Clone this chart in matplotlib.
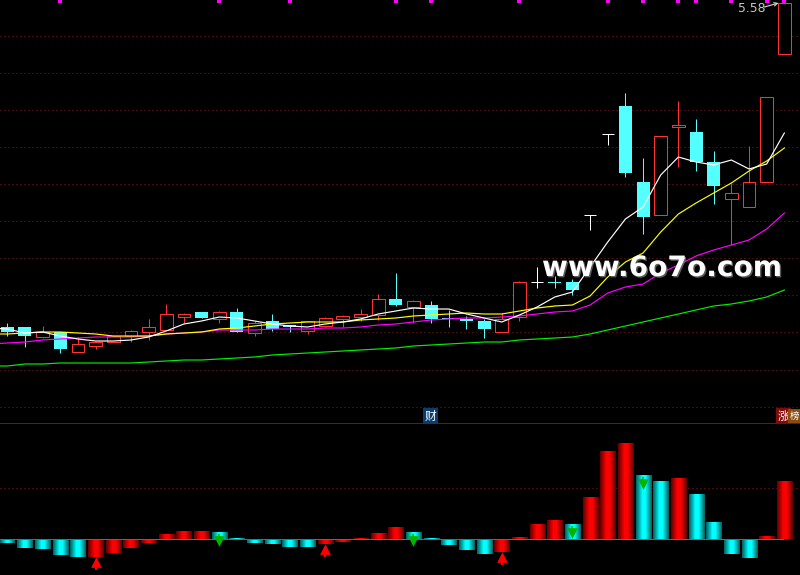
import matplotlib
matplotlib.use('Agg')
import matplotlib.pyplot as plt
import matplotlib.patheffects as pe
from matplotlib.colors import LinearSegmentedColormap
import numpy as np

plt.rcParams['font.family'] = ['Noto Sans CJK SC', 'DejaVu Sans']

# K线数据
opens = [2.34, 2.34, 2.24, 2.29, 2.09, 2.15, 2.19, 2.25, 2.29, 2.31, 2.44, 2.49, 2.42, 2.49, 2.28,
         2.40, 2.36, 2.30, 2.35, 2.42, 2.44, 2.46, 2.62, 2.54, 2.56, 2.43, 2.42, 2.40, 2.29, 2.44, 2.79,
         2.79, 2.79, 3.46, 4.27, 4.55, 3.79, 3.46, 4.34, 4.29, 3.99, 3.62, 3.54, 3.79, 5.07]
closes = [2.29, 2.25, 2.29, 2.12, 2.17, 2.19, 2.25, 2.30, 2.34, 2.47, 2.47, 2.43, 2.49, 2.29, 2.38,
          2.32, 2.34, 2.40, 2.43, 2.45, 2.47, 2.62, 2.56, 2.60, 2.42, 2.42, 2.40, 2.32, 2.42, 2.79, 2.79,
          2.78, 2.71, 3.46, 4.27, 3.88, 3.44, 4.25, 4.36, 3.99, 3.75, 3.68, 3.79, 4.64, 5.58]
highs = [2.38, 2.34, 2.35, 2.29, 2.24, 2.19, 2.25, 2.31, 2.42, 2.57, 2.48, 2.49, 2.50, 2.53, 2.40,
         2.47, 2.36, 2.40, 2.44, 2.46, 2.52, 2.67, 2.88, 2.61, 2.60, 2.51, 2.45, 2.42, 2.48, 2.80, 2.94,
         2.85, 2.82, 3.46, 4.27, 4.68, 4.03, 4.25, 4.60, 4.42, 4.10, 3.78, 4.15, 4.64, 5.58]
lows = [2.25, 2.14, 2.23, 2.08, 2.09, 2.12, 2.19, 2.19, 2.21, 2.31, 2.38, 2.43, 2.38, 2.29, 2.25,
        2.30, 2.29, 2.27, 2.34, 2.34, 2.40, 2.41, 2.55, 2.38, 2.38, 2.34, 2.32, 2.23, 2.29, 2.40, 2.73,
        2.73, 2.66, 3.31, 4.16, 3.84, 3.27, 3.46, 3.94, 3.90, 3.57, 3.16, 3.54, 3.79, 5.07]

# 均线 (第一个值在图外左侧)
ma5 = [2.33, 2.32, 2.28, 2.29, 2.25, 2.22, 2.20, 2.20, 2.21, 2.24, 2.30, 2.37, 2.40, 2.44, 2.43, 2.40,
       2.37, 2.35, 2.34, 2.37, 2.39, 2.42, 2.47, 2.50, 2.53, 2.52, 2.52, 2.47, 2.43, 2.39, 2.46, 2.54,
       2.64, 2.69, 2.94, 3.19, 3.42, 3.54, 3.86, 4.04, 3.99, 3.96, 4.01, 3.92, 3.97, 4.28]
ma10 = [2.27, 2.27, 2.28, 2.29, 2.29, 2.28, 2.27, 2.25, 2.25, 2.25, 2.27, 2.28, 2.29, 2.32, 2.33, 2.35,
        2.37, 2.38, 2.39, 2.39, 2.39, 2.41, 2.42, 2.43, 2.45, 2.46, 2.47, 2.48, 2.47, 2.47, 2.50, 2.53,
        2.55, 2.56, 2.65, 2.84, 2.99, 3.08, 3.29, 3.47, 3.58, 3.68, 3.78, 3.90, 4.00, 4.13]
ma20 = [2.17, 2.18, 2.19, 2.21, 2.22, 2.23, 2.24, 2.24, 2.24, 2.25, 2.27, 2.28, 2.29, 2.31, 2.31, 2.31,
        2.32, 2.32, 2.32, 2.33, 2.33, 2.34, 2.36, 2.37, 2.39, 2.41, 2.42, 2.43, 2.43, 2.44, 2.45, 2.47,
        2.49, 2.50, 2.56, 2.68, 2.74, 2.77, 2.88, 2.96, 3.05, 3.11, 3.16, 3.21, 3.32, 3.48]
ma60 = [1.95, 1.95, 1.97, 1.97, 1.98, 1.98, 1.98, 1.98, 1.98, 1.99, 2.00, 2.01, 2.01, 2.02, 2.03, 2.04,
        2.06, 2.07, 2.08, 2.09, 2.10, 2.11, 2.12, 2.13, 2.15, 2.16, 2.17, 2.18, 2.19, 2.19, 2.21, 2.22,
        2.23, 2.24, 2.27, 2.31, 2.35, 2.39, 2.43, 2.47, 2.51, 2.55, 2.57, 2.60, 2.64, 2.71]

price_grid = [5.25, 4.88, 4.51, 4.14, 3.77, 3.40, 3.03, 2.66, 2.29, 1.91, 1.54]
top_marks = [3, 12, 16, 22, 24, 29, 34, 36, 38, 39, 41, 43, 44]

# 副图柱子
bar_vals = [-0.04, -0.09, -0.10, -0.16, -0.18, -0.18, -0.14, -0.09, -0.04, 0.05, 0.08, 0.08, 0.07, 0.01, -0.04,
            -0.05, -0.08, -0.08, -0.05, -0.03, 0.01, 0.06, 0.12, 0.07, 0.01, -0.06, -0.11, -0.15, -0.13, 0.02,
            0.15, 0.19, 0.15, 0.42, 0.88, 0.96, 0.64, 0.58, 0.61, 0.45, 0.17, -0.15, -0.19, 0.03, 0.58]
red_bars = [5, 6, 7, 8, 9, 10, 11, 18, 19, 20, 21, 22, 28, 29, 30, 31, 33, 34, 35, 38, 43, 44]
up_arrows = [5, 18, 28]
down_arrows = [12, 23, 32, 36]

RED = '#ff3232'
CYAN = '#54ffff'
GRID = '#8c1414'
LW = 0.72

fig = plt.figure(figsize=(8, 5.75), dpi=100, facecolor='black')
ax = fig.add_axes([0, 152 / 575, 1, 423 / 575], facecolor='black')
ax2 = fig.add_axes([0, 0, 1, 152 / 575], facecolor='black')

xlim = (-0.413, 44.886)

# 主图
ax.hlines(price_grid, xlim[0], xlim[1], color=GRID, lw=LW, linestyle=(0, (1, 3)), zorder=1)

for i in range(len(opens)):
    o, c = opens[i], closes[i]
    if c > o:
        ax.vlines(i, lows[i], highs[i], color=RED, lw=LW, zorder=2)
        ax.bar(i, c - o, bottom=o, width=0.72, facecolor='black', edgecolor=RED, lw=LW, zorder=3)
    elif c < o:
        ax.vlines(i, lows[i], highs[i], color=CYAN, lw=LW, zorder=2)
        ax.bar(i, o - c, bottom=c, width=0.74, facecolor=CYAN, edgecolor=CYAN, lw=0, zorder=3)
    else:
        ax.vlines(i, lows[i], highs[i], color='white', lw=LW, zorder=2)
        ax.hlines(c, i - 0.34, i + 0.34, color='white', lw=LW, zorder=3)

ma_x = np.arange(-1, 45)
ax.plot(ma_x, ma60, color='#00f000', lw=0.85, zorder=4)
ax.plot(ma_x, ma20, color='#ff00ff', lw=0.85, zorder=4)
ax.plot(ma_x, ma10, color='#ffff00', lw=0.85, zorder=4)
ax.plot(ma_x, ma5, color='white', lw=0.85, zorder=5)

ax.scatter(top_marks, [5.60] * len(top_marks), marker='s', s=5, color='#ff00ff', linewidths=0, zorder=6)

ax.set_xlim(*xlim)
ax.set_ylim(1.38, 5.61)
ax.axis('off')

# 副图
red_cmap = LinearSegmentedColormap.from_list(
    'r', [(0, '#680000'), (0.42, '#ff0000'), (0.58, '#ff0000'), (1, '#680000')])
cyan_cmap = LinearSegmentedColormap.from_list(
    'c', [(0, '#006868'), (0.42, '#00ffff'), (0.58, '#00ffff'), (1, '#006868')])
grad = np.linspace(0, 1, 15).reshape(1, -1)

ax2.hlines(0.51, xlim[0], xlim[1], color=GRID, lw=LW, linestyle=(0, (1, 3)), zorder=1)
for i, v in enumerate(bar_vals):
    cmap = red_cmap if i in red_bars else cyan_cmap
    ax2.imshow(grad, cmap=cmap, extent=[i - 0.425, i + 0.425, 0, v], aspect='auto',
               interpolation='nearest', zorder=2)
ax2.hlines(0, xlim[0], 44, color='#ff00ff', lw=LW, zorder=3)

for i in up_arrows:
    v = bar_vals[i]
    ax2.vlines(i, v - 0.13, v - 0.05, color='#ff0000', lw=1.4, zorder=4)
    ax2.scatter(i, v - 0.05, marker='^', s=60, color='#ff0000', linewidths=0, zorder=4)
for i in down_arrows:
    v = bar_vals[i]
    ax2.vlines(i, v - 0.08, v - 0.015, color='#00d000', lw=1.4, zorder=4)
    ax2.scatter(i, v - 0.09, marker='v', s=60, color='#00b400', linewidths=0, zorder=4)

ax2.set_xlim(*xlim)
ax2.set_ylim(-0.36, 1.16)
ax2.set_xticks([])
ax2.set_yticks([])
for side in ['left', 'right', 'bottom']:
    ax2.spines[side].set_visible(False)
ax2.spines['top'].set_color('#a00000')
ax2.spines['top'].set_linewidth(LW)

# 最高价标注
fig.text(738 / 800, 1 - 12 / 575, '5.58', color='#c8c8c8', fontsize=8.8, family='DejaVu Sans', va='baseline')
ax.annotate('', xy=(44 - 0.33, 5.58), xytext=(42.87, 5.54),
            arrowprops=dict(arrowstyle='->', color='#d8d8d8', lw=0.8, shrinkA=0, shrinkB=0, mutation_scale=6), zorder=7)

# 标签
fig.text(430.5 / 800, 1 - 416 / 575, '财', color='white', fontsize=8.5, ha='center', va='center',
         bbox=dict(facecolor='#0a3c6e', edgecolor='none', pad=1))
fig.text(783.5 / 800, 1 - 416 / 575, '涨', color='white', fontsize=8.5, ha='center', va='center',
         bbox=dict(facecolor='#820a0a', edgecolor='none', pad=1))
fig.text(795 / 800, 1 - 416 / 575, '榜', color='white', fontsize=6.8, ha='center', va='center',
         bbox=dict(facecolor='#8a4a10', edgecolor='none', pad=2))

# 水印
wm = fig.text(542 / 800, 1 - 276 / 575, 'www.6o7o.com', color='white', fontsize=20.2, fontweight='bold',
              family='DejaVu Sans', va='baseline')
wm.set_path_effects([pe.SimplePatchShadow(offset=(1, -1), shadow_rgbFace='#808080', alpha=0.7), pe.Normal()])

fig.savefig('out.png', dpi=100, facecolor='black')
